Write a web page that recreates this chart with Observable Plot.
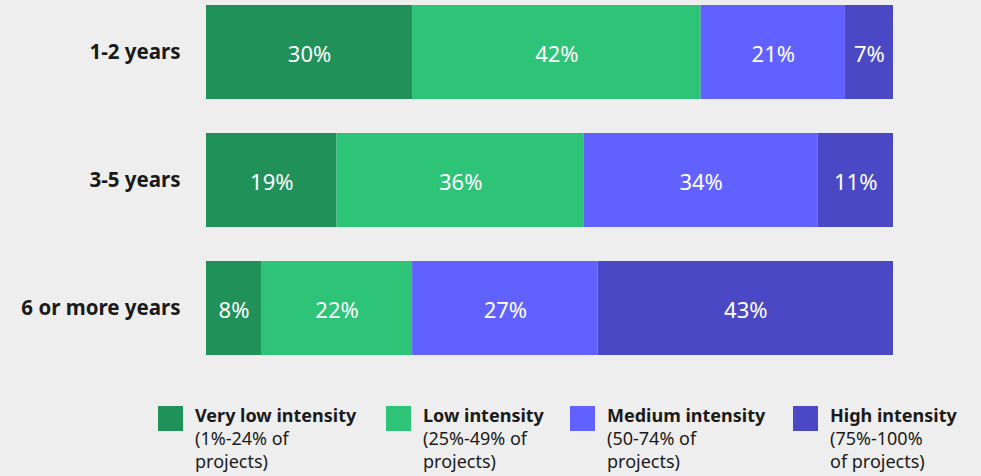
<!DOCTYPE html>
<html>
<head>
<meta charset="utf-8">
<script src="https://cdn.jsdelivr.net/npm/d3@7"></script>
<script src="https://cdn.jsdelivr.net/npm/@observablehq/plot@0.6"></script>
<style>
  html, body { margin: 0; padding: 0; background: #eeeeee; }
  body { width: 981px; height: 476px; overflow: hidden; font-family: "Noto Sans", sans-serif; }
  #legend { position: relative; height: 116px; }
  .item { position: absolute; top: 46px; display: flex; align-items: flex-start; }
  .sw { width: 25px; height: 25px; margin-right: 12px; flex: none; }
  .txt { font-size: 18px; line-height: 23px; color: #1a1a1a; margin-top: -2px; }
  .txt b { font-weight: 700; }
</style>
</head>
<body>
<div id="chart"></div>
<div id="legend"></div>
<script>
const categories = ["1-2 years", "3-5 years", "6 or more years"];
const seriesNames = ["Very low intensity", "Low intensity", "Medium intensity", "High intensity"];
const seriesNotes = [["(1%-24% of", "projects)"], ["(25%-49% of", "projects)"], ["(50-74% of", "projects)"], ["(75%-100%", "of projects)"]];
const colors = ["#21915a", "#2dc478", "#6161ff", "#4a48c4"];
const veryLow = [30, 19, 8];
const low = [42, 36, 22];
const medium = [21, 34, 27];
const high = [7, 11, 43];

const seriesValues = [veryLow, low, medium, high];
const data = [];
categories.forEach((c, i) => {
  seriesNames.forEach((s, j) => data.push({cat: c, series: s, value: seriesValues[j][i]}));
});

const chart = Plot.plot({
  width: 981,
  height: 360,
  marginLeft: 206,
  marginRight: 88,
  marginTop: 5,
  marginBottom: 5,
  style: {background: "#eeeeee", fontFamily: "Noto Sans, sans-serif"},
  x: {domain: [0, 100], axis: null},
  y: {domain: categories, paddingInner: 0.266, paddingOuter: 0, label: null},
  color: {domain: seriesNames, range: colors},
  marks: [
    Plot.barX(data, Plot.stackX({x: "value", y: "cat", z: "series", fill: "series", order: null})),
    Plot.text(data, Plot.stackX({x: "value", y: "cat", z: "series", order: null, text: d => d.value + "%", fill: "white", fontSize: 22, dy: 2})),
    Plot.axisY({tickSize: 0, tickPadding: 26, fontSize: 20.5, fontWeight: "bold", fill: "#1a1a1a", label: null})
  ]
});
document.getElementById("chart").appendChild(chart);

const legend = document.getElementById("legend");
const lefts = [158, 386, 570, 793];
seriesNames.forEach((s, i) => {
  const it = document.createElement("div");
  it.className = "item";
  it.style.left = lefts[i] + "px";
  it.innerHTML = `<div class="sw" style="background:${colors[i]}"></div><div class="txt"><b>${s}</b><br>${seriesNotes[i][0]}<br>${seriesNotes[i][1]}</div>`;
  legend.appendChild(it);
});
</script>
</body>
</html>
